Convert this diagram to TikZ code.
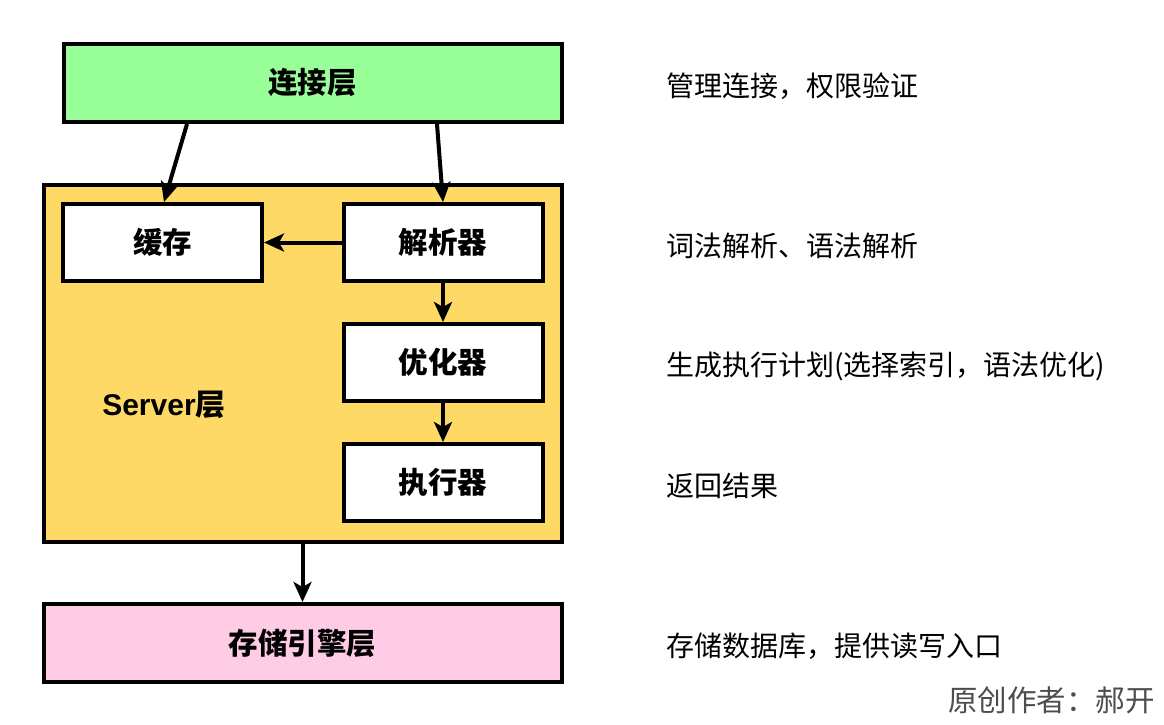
\documentclass[tikz,border=0pt]{standalone}
\usepackage{fontspec}
\setmainfont{Noto Sans CJK SC}
\newfontfamily\latb{Liberation Sans}
\usetikzlibrary{arrows.meta}
\definecolor{lgreen}{HTML}{99FF99}
\definecolor{lyellow}{HTML}{FFD966}
\definecolor{lpink}{HTML}{FFCCE6}
\definecolor{authgray}{HTML}{4D4D4D}
\tikzset{
  layer/.style={draw=black, line width=4pt, minimum width=500pt, minimum height=78pt, inner sep=0pt, font=\fontsize{29.5}{32}\selectfont\bfseries},
  box/.style={draw=black, fill=white, line width=4pt, minimum width=199pt, minimum height=77pt, inner sep=0pt, font=\fontsize{29.5}{32}\selectfont\bfseries},
  desc/.style={anchor=west, inner sep=0pt, font=\fontsize{28}{32}\selectfont},
  arr/.style={line width=4pt, -{Stealth[length=20pt, width=18pt, inset=5pt]}}
}
\begin{document}
\begin{tikzpicture}[x=1pt, y=-1pt]
\useasboundingbox (0,0) rectangle (1164,724);
\node[layer, fill=lgreen, minimum width=498pt] (conn) at (312.5,82.5) {连接层};
\node[layer, fill=lyellow, minimum width=518pt, minimum height=357pt] (server) at (302.5,363) {};
\node[box] (cache) at (162.5,242.5) {缓存};
\node[box] (parser) at (443,242.5) {解析器};
\node[box] (opt) at (443,362.5) {优化器};
\node[box] (exec) at (443,482.5) {执行器};
\node[inner sep=0pt, font=\fontsize{30}{32}\selectfont\bfseries] (slabel) at (164,405) {{\latb\bfseries Server}层};
\node[layer, fill=lpink, minimum width=518pt] (store) at (302.5,643) {存储引擎层};
\coordinate (c1) at (187,124);
\coordinate (c2) at (437,124);
\draw[arr] (c1) -- (cache.north -| 164,0);
\draw[arr] (c2) -- (parser.north);
\draw[arr] (parser.west) -- (cache.east);
\draw[arr] (parser.south) -- (opt.north);
\draw[arr] (opt.south) -- (exec.north);
\draw[arr] (server.south) -- (store.north);
\node[desc] (d1) at (666,86) {管理连接，权限验证};
\node[desc] (d2) at (666,246) {词法解析、语法解析};
\node[desc] (d3) at (666,366) {生成执行计划(选择索引，语法优化)};
\node[desc] (d4) at (666,486) {返回结果};
\node[desc] (d5) at (666,646) {存储数据库，提供读写入口};
\node[anchor=east, inner sep=0pt, text=authgray, font=\fontsize{29.5}{32}\selectfont] (auth) at (1155,700) {原创作者：郝开};
\end{tikzpicture}
\end{document}
